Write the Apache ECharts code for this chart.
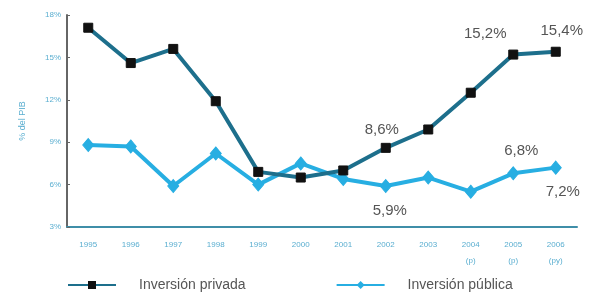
<!DOCTYPE html>
<html>
<head>
<meta charset="utf-8">
<script src="https://cdn.jsdelivr.net/npm/echarts@6/dist/echarts.min.js"></script>
<style>
  html, body { margin: 0; padding: 0; background: #fff; }
  #main { width: 596px; height: 297px; }
</style>
</head>
<body>
<div id="main"></div>
<script>
var years = ["1995", "1996", "1997", "1998", "1999", "2000", "2001", "2002", "2003", "2004\n(p)", "2005\n(p)", "2006\n(py)"];
var privada = [17.1, 14.6, 15.6, 11.9, 6.9, 6.5, 7.0, 8.6, 9.9, 12.5, 15.2, 15.4];
var publica = [8.8, 8.7, 5.9, 8.2, 6.0, 7.5, 6.4, 5.9, 6.5, 5.5, 6.8, 7.2];
// which points carry a value label: [position, distance, offset]
var privLabels = { 7: ["top", 5, [-4, 0]], 10: ["top", 8, [-28, 0]], 11: ["top", 8, [6, 0]] };
var pubLabels = { 7: ["bottom", 10, [4, 0]], 10: ["top", 8, [8, 0]], 11: ["bottom", 10, [7, 0]] };

function fmt(v) { return String(v).replace(".", ",") + "%"; }

function withLabels(values, labels) {
  return values.map(function (v, i) {
    if (!labels[i]) return v;
    return {
      value: v,
      label: {
        show: true,
        position: labels[i][0],
        distance: labels[i][1],
        offset: labels[i][2],
        formatter: function (p) { return fmt(p.value); }
      }
    };
  });
}

var chart = echarts.init(document.getElementById("main"));
chart.setOption({
  animation: false,
  textStyle: { fontFamily: "Liberation Sans, Arial, sans-serif" },
  grid: { left: 67, right: 19, top: 15, bottom: 70 },
  legend: {
    bottom: 0,
    left: 62,
    itemWidth: 48,
    itemHeight: 10,
    itemGap: 90,
    textStyle: { fontSize: 14, color: "#555", padding: [0, 0, 0, 18] },
    data: ["Inversión privada", "Inversión pública"]
  },
  xAxis: {
    type: "category",
    data: years,
    boundaryGap: true,
    axisLine: { lineStyle: { color: "#3f8ea8", width: 2 } },
    axisTick: { lineStyle: { color: "#3f8ea8" }, length: 4 },
    axisLabel: { color: "#5aaed0", fontSize: 8, margin: 10, lineHeight: 16 }
  },
  yAxis: {
    type: "value",
    min: 3,
    max: 18,
    interval: 3,
    name: "% del PIB",
    nameLocation: "middle",
    nameGap: 40,
    nameTextStyle: { color: "#5aaed0", fontSize: 9 },
    axisLine: { show: true, lineStyle: { color: "#666", width: 2 } },
    axisTick: { show: true, inside: true, length: 3, lineStyle: { color: "#666" } },
    splitLine: { show: false },
    axisLabel: { color: "#5aaed0", fontSize: 8, margin: 6, formatter: "{value}%" }
  },
  series: [
    {
      name: "Inversión privada",
      type: "line",
      data: withLabels(privada, privLabels),
      symbol: "rect",
      symbolSize: 9,
      lineStyle: { color: "#1d6f8c", width: 4 },
      itemStyle: { color: "#111", borderColor: "#111" },
      label: { color: "#555", fontSize: 15 },
      z: 3
    },
    {
      name: "Inversión pública",
      type: "line",
      data: withLabels(publica, pubLabels),
      symbol: "diamond",
      symbolSize: [11, 13],
      lineStyle: { color: "#27aee2", width: 4 },
      itemStyle: { color: "#27aee2", borderColor: "#27aee2" },
      label: { color: "#555", fontSize: 15 },
      z: 2
    }
  ]
});
</script>
</body>
</html>
